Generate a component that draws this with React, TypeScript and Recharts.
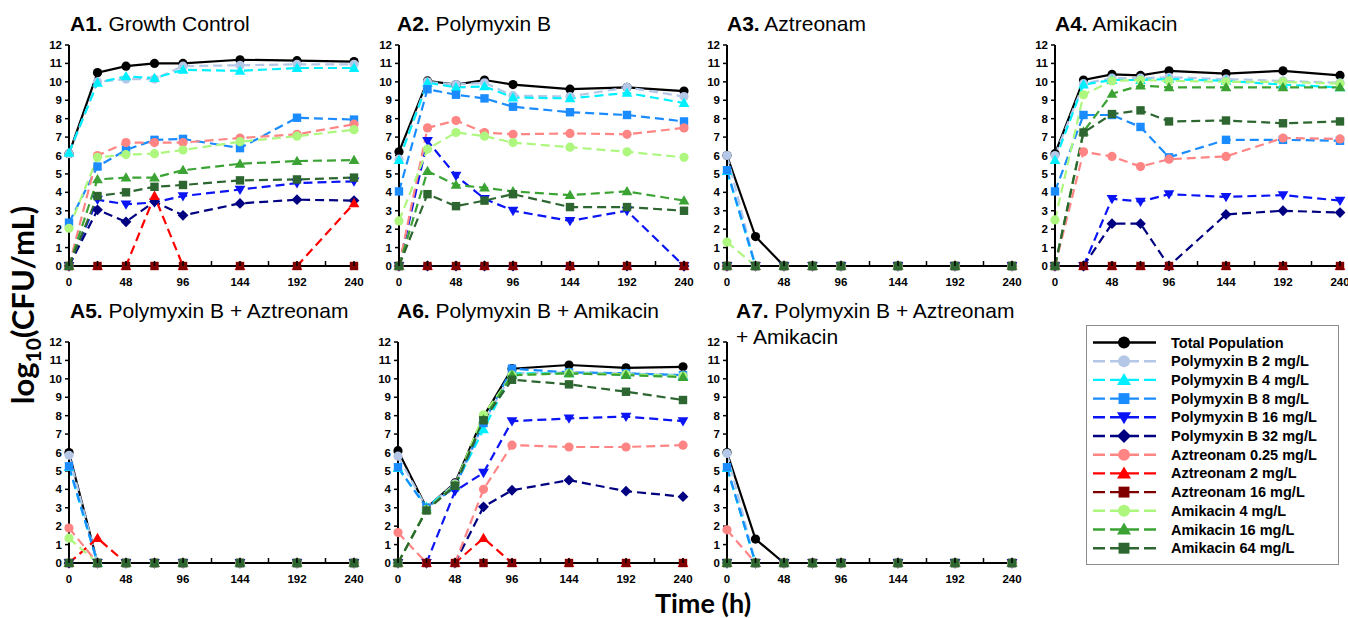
import React from 'react';
import { LineChart, Line, XAxis, YAxis, Legend } from 'recharts';

const TIMES = [0, 24, 48, 72, 96, 144, 192, 240];
const X_TICKS = [0, 24, 48, 72, 96, 120, 144, 168, 192, 216, 240];
const X_LABELS = [0, 48, 96, 144, 192, 240];
const Y_TICKS = [0, 1, 2, 3, 4, 5, 6, 7, 8, 9, 10, 11, 12];

const SERIES_NAMES = [
  'Total Population',
  'Polymyxin B 2 mg/L',
  'Polymyxin B 4 mg/L',
  'Polymyxin B 8 mg/L',
  'Polymyxin B 16 mg/L',
  'Polymyxin B 32 mg/L',
  'Aztreonam 0.25 mg/L',
  'Aztreonam 2 mg/L',
  'Aztreonam 16 mg/L',
  'Amikacin 4 mg/L',
  'Amikacin 16 mg/L',
  'Amikacin 64 mg/L',
];

// rows follow SERIES_NAMES order, columns follow TIMES
const growthControl = [
  [6.1, 10.5, 10.85, 11.0, 11.0, 11.2, 11.15, 11.1],
  [6.1, 10.0, 10.15, 10.15, 10.85, 10.9, 10.95, 10.95],
  [6.15, 9.95, 10.3, 10.2, 10.65, 10.6, 10.75, 10.75],
  [2.35, 5.4, 6.3, 6.85, 6.9, 6.4, 8.05, 7.95],
  [0, 3.6, 3.35, 3.45, 3.8, 4.15, 4.5, 4.6],
  [0, 3.05, 2.4, 3.5, 2.75, 3.4, 3.6, 3.55],
  [0, 6.0, 6.7, 6.7, 6.7, 6.95, 7.15, 7.7],
  [0, 0, 0, 3.8, 0, 0, 0, 3.4],
  [0, 0, 0, 0, 0, 0, 0, 0],
  [2.05, 5.9, 6.05, 6.1, 6.3, 6.75, 7.05, 7.4],
  [0, 4.7, 4.8, 4.8, 5.2, 5.55, 5.7, 5.75],
  [0, 3.8, 4.0, 4.3, 4.4, 4.65, 4.7, 4.8],
];

const polymyxinB = [
  [6.2, 10.05, 9.85, 10.1, 9.85, 9.6, 9.7, 9.5],
  [5.8, 10.0, 9.85, 9.95, 9.25, 9.2, 9.7, 9.2],
  [5.75, 9.95, 9.7, 9.75, 9.15, 9.1, 9.4, 8.85],
  [4.05, 9.6, 9.3, 9.1, 8.65, 8.35, 8.2, 7.85],
  [0, 6.8, 4.9, 3.65, 3.0, 2.45, 3.0, 0],
  [0, 0, 0, 0, 0, 0, 0, 0],
  [0, 7.5, 7.9, 7.25, 7.15, 7.2, 7.15, 7.5],
  [0, 0, 0, 0, 0, 0, 0, 0],
  [0, 0, 0, 0, 0, 0, 0, 0],
  [2.45, 6.35, 7.25, 7.05, 6.7, 6.45, 6.2, 5.9],
  [0, 5.15, 4.4, 4.25, 4.05, 3.85, 4.05, 3.55],
  [0, 3.9, 3.25, 3.55, 3.9, 3.2, 3.2, 3.0],
];

const aztreonam = [
  [6.0, 1.6, 0, 0, 0, 0, 0, 0],
  [6.0, 0, 0, 0, 0, 0, 0, 0],
  [5.15, 0, 0, 0, 0, 0, 0, 0],
  [5.2, 0, 0, 0, 0, 0, 0, 0],
  [0, 0, 0, 0, 0, 0, 0, 0],
  [0, 0, 0, 0, 0, 0, 0, 0],
  [0, 0, 0, 0, 0, 0, 0, 0],
  [0, 0, 0, 0, 0, 0, 0, 0],
  [0, 0, 0, 0, 0, 0, 0, 0],
  [1.3, 0, 0, 0, 0, 0, 0, 0],
  [0, 0, 0, 0, 0, 0, 0, 0],
  [0, 0, 0, 0, 0, 0, 0, 0],
];

const amikacin = [
  [6.1, 10.1, 10.4, 10.35, 10.6, 10.45, 10.6, 10.35],
  [6.0, 9.9, 10.2, 10.2, 10.25, 10.15, 10.05, 9.95],
  [5.75, 9.85, 10.1, 10.1, 10.15, 10.05, 9.85, 9.7],
  [4.05, 8.2, 8.2, 7.55, 5.9, 6.85, 6.85, 6.8],
  [0, 0, 3.65, 3.5, 3.9, 3.75, 3.85, 3.55],
  [0, 0, 2.3, 2.3, 0, 2.8, 3.0, 2.9],
  [0, 6.2, 5.95, 5.4, 5.8, 5.95, 6.95, 6.9],
  [0, 0, 0, 0, 0, 0, 0, 0],
  [0, 0, 0, 0, 0, 0, 0, 0],
  [2.5, 9.3, 10.05, 10.1, 10.05, 10.0, 10.0, 9.9],
  [0, 7.3, 9.35, 9.8, 9.7, 9.7, 9.7, 9.7],
  [0, 7.25, 8.25, 8.45, 7.85, 7.9, 7.75, 7.85],
];

const pmbAztreonam = [
  [6.0, 0, 0, 0, 0, 0, 0, 0],
  [5.85, 0, 0, 0, 0, 0, 0, 0],
  [5.2, 0, 0, 0, 0, 0, 0, 0],
  [5.25, 0, 0, 0, 0, 0, 0, 0],
  [0, 0, 0, 0, 0, 0, 0, 0],
  [0, 0, 0, 0, 0, 0, 0, 0],
  [1.9, 0, 0, 0, 0, 0, 0, 0],
  [0, 1.35, 0, 0, 0, 0, 0, 0],
  [0, 0, 0, 0, 0, 0, 0, 0],
  [1.35, 0, 0, 0, 0, 0, 0, 0],
  [0, 0, 0, 0, 0, 0, 0, 0],
  [0, 0, 0, 0, 0, 0, 0, 0],
];

const pmbAmikacin = [
  [6.1, 3.0, 4.35, 7.95, 10.55, 10.75, 10.6, 10.65],
  [5.8, 3.0, 4.3, 7.6, 10.3, 10.35, 10.3, 10.2],
  [5.15, 3.05, 4.2, 7.25, 10.3, 10.3, 10.25, 10.15],
  [5.2, 3.0, 4.1, 7.6, 10.55, 10.35, 10.3, 10.2],
  [0, 0, 3.9, 4.9, 7.7, 7.85, 7.95, 7.7],
  [0, 0, 0, 3.05, 3.95, 4.5, 3.9, 3.6],
  [1.65, 0, 0, 4.0, 6.4, 6.3, 6.3, 6.4],
  [0, 0, 0, 1.35, 0, 0, 0, 0],
  [0, 0, 0, 0, 0, 0, 0, 0],
  [0, 2.9, 4.25, 8.05, 10.2, 10.3, 10.25, 10.15],
  [0, 2.9, 4.2, 7.8, 10.2, 10.3, 10.2, 10.1],
  [0, 2.85, 4.2, 7.75, 9.95, 9.7, 9.3, 8.85],
];

const pmbAztAmikacin = [
  [6.0, 1.3, 0, 0, 0, 0, 0, 0],
  [5.95, 0, 0, 0, 0, 0, 0, 0],
  [5.15, 0, 0, 0, 0, 0, 0, 0],
  [5.2, 0, 0, 0, 0, 0, 0, 0],
  [0, 0, 0, 0, 0, 0, 0, 0],
  [0, 0, 0, 0, 0, 0, 0, 0],
  [1.8, 0, 0, 0, 0, 0, 0, 0],
  [0, 0, 0, 0, 0, 0, 0, 0],
  [0, 0, 0, 0, 0, 0, 0, 0],
  [0, 0, 0, 0, 0, 0, 0, 0],
  [0, 0, 0, 0, 0, 0, 0, 0],
  [0, 0, 0, 0, 0, 0, 0, 0],
];

type Shape = 'circle' | 'triangle' | 'square' | 'down' | 'diamond';

const STYLES: { color: string; shape: Shape; dashed: boolean }[] = [
  { color: '#000000', shape: 'circle', dashed: false },
  { color: '#B4C7E7', shape: 'circle', dashed: true },
  { color: '#00F0FF', shape: 'triangle', dashed: true },
  { color: '#1A8CFF', shape: 'square', dashed: true },
  { color: '#0A14F5', shape: 'down', dashed: true },
  { color: '#000080', shape: 'diamond', dashed: true },
  { color: '#FF8585', shape: 'circle', dashed: true },
  { color: '#FF0000', shape: 'triangle', dashed: true },
  { color: '#800000', shape: 'square', dashed: true },
  { color: '#ADF77F', shape: 'circle', dashed: true },
  { color: '#3AA333', shape: 'triangle', dashed: true },
  { color: '#2D6630', shape: 'square', dashed: true },
];

const FONT = '"Liberation Sans", Arial, sans-serif';
const LABEL_FONT = 'Lato, "Open Sans", sans-serif';

const PLOT_W = 285;
const PLOT_H = 221;
const Y_AXIS_W = 30;
const X_AXIS_H = 28;
const M = { top: 10, right: 16, left: 0, bottom: 0 };

function Marker({ cx, cy, shape, color, s = 1 }: { cx: number; cy: number; shape: Shape; color: string; s?: number }) {
  if (cx == null || cy == null) return null;
  if (shape === 'circle') return <circle cx={cx} cy={cy} r={4.6 * s} fill={color} />;
  if (shape === 'square') {
    const h = 4.2 * s;
    return <rect x={cx - h} y={cy - h} width={2 * h} height={2 * h} fill={color} />;
  }
  if (shape === 'triangle') {
    const h = 5.4 * s;
    return <polygon points={`${cx},${cy - h} ${cx - h},${cy + h * 0.72} ${cx + h},${cy + h * 0.72}`} fill={color} />;
  }
  if (shape === 'down') {
    const h = 5.4 * s;
    return <polygon points={`${cx},${cy + h} ${cx - h},${cy - h * 0.72} ${cx + h},${cy - h * 0.72}`} fill={color} />;
  }
  const h = 5.4 * s;
  return <polygon points={`${cx},${cy - h} ${cx + h},${cy} ${cx},${cy + h} ${cx - h},${cy}`} fill={color} />;
}

function XTick(props: any) {
  const { x, y, payload } = props;
  const v = payload.value;
  return (
    <g>
      <line x1={x} x2={x} y1={y} y2={y - 5} stroke="#000" strokeWidth={1.5} />
      {X_LABELS.includes(v) && (
        <text x={x} y={y + 20} textAnchor="middle" fontSize={11.5} fontWeight={700} fontFamily={FONT} fill="#000">
          {v}
        </text>
      )}
    </g>
  );
}

function LegendBox() {
  return (
    <svg width={253} height={240} style={{ display: 'block' }}>
      <rect x={0.5} y={0.5} width={252} height={239} fill="#fff" stroke="#8c8c8c" strokeWidth={1} />
      {SERIES_NAMES.map((name, i) => {
        const st = STYLES[i];
        const cy = 17.5 + i * 18.7;
        return (
          <g key={name}>
            <line
              x1={7}
              x2={70}
              y1={cy}
              y2={cy}
              stroke={st.color}
              strokeWidth={2.4}
              strokeDasharray={st.dashed ? '12 5' : undefined}
            />
            <Marker cx={38} cy={cy} shape={st.shape} color={st.color} s={1.3} />
            <text x={85} y={cy + 5} fontSize={14.5} fontWeight={700} fontFamily={FONT} fill="#000">
              {name}
            </text>
          </g>
        );
      })}
    </svg>
  );
}

function Panel({
  values,
  left,
  top,
  withLegend,
}: {
  values: number[][];
  left: number;
  top: number;
  withLegend?: boolean;
}) {
  const data = TIMES.map((t, i) => {
    const row: Record<string, number> = { t };
    values.forEach((s, k) => {
      row['s' + k] = s[i];
    });
    return row;
  });
  const chartLeft = left - Y_AXIS_W;
  const chartTop = top - M.top;
  return (
    <div style={{ position: 'absolute', left: chartLeft, top: chartTop }}>
      <LineChart width={Y_AXIS_W + PLOT_W + M.right} height={M.top + PLOT_H + X_AXIS_H} data={data} margin={M}>
        <XAxis
          dataKey="t"
          type="number"
          domain={[0, 240]}
          ticks={X_TICKS}
          interval={0}
          height={X_AXIS_H}
          tickSize={0}
          tickMargin={0}
          tickLine={false}
          tick={<XTick />}
          axisLine={{ stroke: '#000', strokeWidth: 2 }}
        />
        <YAxis
          type="number"
          domain={[0, 12]}
          ticks={Y_TICKS}
          interval={0}
          width={Y_AXIS_W}
          tickSize={4}
          tickMargin={3}
          tick={{ fontSize: 11.5, fontWeight: 700, fill: '#000', fontFamily: FONT }}
          tickLine={{ stroke: '#000', strokeWidth: 1.5 }}
          axisLine={{ stroke: '#000', strokeWidth: 2 }}
        />
        {values.map((_, k) => {
          const st = STYLES[k];
          return (
            <Line
              key={k}
              dataKey={'s' + k}
              name={SERIES_NAMES[k]}
              type="linear"
              stroke={st.color}
              strokeWidth={2.2}
              strokeDasharray={st.dashed ? '9 5' : undefined}
              isAnimationActive={false}
              dot={(p: any) => (
                <Marker key={`${k}-${p.index}`} cx={p.cx} cy={p.cy} shape={st.shape} color={st.color} />
              )}
              activeDot={false}
            />
          );
        })}
        {withLegend && (
          <Legend
            layout="horizontal"
            verticalAlign="middle"
            align="center"
            content={() => <LegendBox />}
            wrapperStyle={{ left: 1086 - chartLeft, top: 325 - chartTop, width: 253, height: 240 }}
          />
        )}
      </LineChart>
    </div>
  );
}

function Title({ x, y, bold, rest }: { x: number; y: number; bold: string; rest: string }) {
  return (
    <text x={x} y={y} fontSize={21} fontFamily={FONT} fill="#000">
      {bold && <tspan fontWeight={700}>{bold}</tspan>}
      {rest}
    </text>
  );
}

export default function App() {
  return (
    <div style={{ position: 'absolute', left: 0, top: 0, width: 1348, height: 618, background: '#fff', overflow: 'hidden' }}>
      <Panel values={growthControl} left={69} top={45} />
      <Panel values={polymyxinB} left={399} top={45} />
      <Panel values={aztreonam} left={727} top={45} />
      <Panel values={amikacin} left={1055} top={45} />
      <Panel values={pmbAztreonam} left={69} top={342} />
      <Panel values={pmbAmikacin} left={398} top={342} />
      <Panel values={pmbAztAmikacin} left={727} top={342} withLegend />
      <svg width={1348} height={618} style={{ position: 'absolute', left: 0, top: 0, pointerEvents: 'none' }}>
        <Title x={70} y={31} bold="A1." rest=" Growth Control" />
        <Title x={397} y={31} bold="A2." rest=" Polymyxin B" />
        <Title x={727} y={31} bold="A3." rest=" Aztreonam" />
        <Title x={1055} y={31} bold="A4." rest=" Amikacin" />
        <Title x={70} y={318} bold="A5." rest=" Polymyxin B + Aztreonam" />
        <Title x={397} y={318} bold="A6." rest=" Polymyxin B + Amikacin" />
        <Title x={736} y={318} bold="A7." rest=" Polymyxin B + Aztreonam" />
        <Title x={736} y={344} bold="" rest="+ Amikacin" />
        <text x={703} y={613} textAnchor="middle" fontSize={27} fontWeight={700} fontFamily={LABEL_FONT} fill="#000">
          Time (h)
        </text>
        <text
          transform="translate(34,305) rotate(-90)"
          textAnchor="middle"
          fontSize={31}
          fontWeight={700}
          fontFamily={LABEL_FONT}
          fill="#000"
        >
          log
          <tspan dy={7} fontSize={21}>10</tspan>
          <tspan dy={-7}>(CFU/mL)</tspan>
        </text>
      </svg>
    </div>
  );
}
